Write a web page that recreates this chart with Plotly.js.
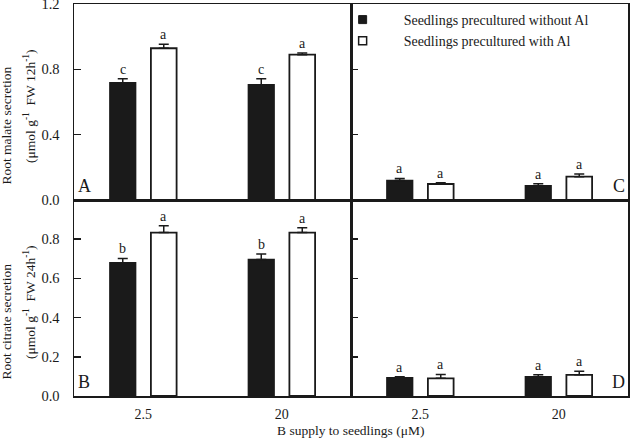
<!DOCTYPE html>
<html><head><meta charset="utf-8">
<script src="https://cdn.plot.ly/plotly-3.0.1.min.js"></script>
<style>html,body{margin:0;padding:0;background:#fff}</style>
</head><body><div id="chart" style="width:630px;height:438px"></div>
<script>
// ---- data ----
const bSupply = ['2.5', '20'];
const seriesNames = ['Seedlings precultured without Al', 'Seedlings precultured with Al'];

// Panel A: root malate secretion (left)
const malateA_without = [0.718, 0.706];
const malateA_with    = [0.929, 0.890];
const malateA_withoutErr = [0.025, 0.037];
const malateA_withErr    = [0.024, 0.010];
const malateA_withoutSig = ['c', 'c'];
const malateA_withSig    = ['a', 'a'];

// Panel C: root malate secretion (right)
const malateC_without = [0.120, 0.088];
const malateC_with    = [0.098, 0.143];
const malateC_withoutErr = [0.012, 0.012];
const malateC_withErr    = [0.008, 0.016];
const malateC_withoutSig = ['a', 'a'];
const malateC_withSig    = ['a', 'a'];

// Panel B: root citrate secretion (left)
const citrateB_without = [0.680, 0.697];
const citrateB_with    = [0.834, 0.834];
const citrateB_withoutErr = [0.022, 0.027];
const citrateB_withErr    = [0.035, 0.025];
const citrateB_withoutSig = ['b', 'b'];
const citrateB_withSig    = ['a', 'a'];

// Panel D: root citrate secretion (right)
const citrateD_without = [0.093, 0.098];
const citrateD_with    = [0.090, 0.108];
const citrateD_withoutErr = [0.005, 0.010];
const citrateD_withErr    = [0.020, 0.018];
const citrateD_withoutSig = ['a', 'a'];
const citrateD_withSig    = ['a', 'a'];

const malateTicks  = [0, 0.4, 0.8, 1.2];
const citrateTicks = [0, 0.2, 0.4, 0.6, 0.8];

const malateTitle  = ['Root malate secretion', '(μmol g<sup>-1</sup>  FW 12h<sup>-1</sup>)'];
const citrateTitle = ['Root citrate secretion', '(μmol g<sup>-1</sup>  FW 24h<sup>-1</sup>)'];
const xTitle = 'B supply to seedlings (μM)';

// ---- styling ----
const FONT = '"Liberation Serif", "Times New Roman", serif';
const INK = '#1a1a1a';
const BARGAP = 0.408, BARGROUPGAP = 0.373;
const slot = (1 - BARGAP) / 2;

const panels = [
  {name:'A', xa:'x',  ya:'y',  w:malateA_without, wi:malateA_with, we:malateA_withoutErr, wie:malateA_withErr, ws:malateA_withoutSig, wis:malateA_withSig},
  {name:'C', xa:'x2', ya:'y2', w:malateC_without, wi:malateC_with, we:malateC_withoutErr, wie:malateC_withErr, ws:malateC_withoutSig, wis:malateC_withSig},
  {name:'B', xa:'x3', ya:'y3', w:citrateB_without, wi:citrateB_with, we:citrateB_withoutErr, wie:citrateB_withErr, ws:citrateB_withoutSig, wis:citrateB_withSig},
  {name:'D', xa:'x4', ya:'y4', w:citrateD_without, wi:citrateD_with, we:citrateD_withoutErr, wie:citrateD_withErr, ws:citrateD_withoutSig, wis:citrateD_withSig},
];

const traces = [];
const annotations = [];
function errY(arr){ return {type:'data', symmetric:false, array:arr, arrayminus:arr.map(()=>0), color:INK, thickness:1.5, width:5}; }

panels.forEach(p => {
  traces.push({type:'bar', x:bSupply, y:p.w, xaxis:p.xa, yaxis:p.ya, name:seriesNames[0], showlegend:false,
    marker:{color:INK, line:{color:INK, width:1.5}}, error_y:errY(p.we)});
  traces.push({type:'bar', x:bSupply, y:p.wi, xaxis:p.xa, yaxis:p.ya, name:seriesNames[1], showlegend:false,
    marker:{color:'#ffffff', line:{color:INK, width:1.8}}, error_y:errY(p.wie)});
  bSupply.forEach((c, i) => {
    annotations.push({xref:p.xa, yref:p.ya, x:i - slot/2, y:p.w[i] + p.we[i], text:p.ws[i], showarrow:false,
      yanchor:'bottom', yshift:0, font:{family:FONT, size:14, color:INK}});
    annotations.push({xref:p.xa, yref:p.ya, x:i + slot/2, y:p.wi[i] + p.wie[i], text:p.wis[i], showarrow:false,
      yanchor:'bottom', yshift:0, font:{family:FONT, size:14, color:INK}});
  });
});

// legend-only entries
traces.push({type:'scatter', mode:'markers', x:[null], y:[null], xaxis:'x2', yaxis:'y2', name:seriesNames[0],
  marker:{symbol:'square', size:8, color:INK, line:{color:INK, width:1}}});
traces.push({type:'scatter', mode:'markers', x:[null], y:[null], xaxis:'x2', yaxis:'y2', name:seriesNames[1],
  marker:{symbol:'square', size:8, color:'#ffffff', line:{color:INK, width:1.5}}});

// panel letters
const letterFont = {family:FONT, size:18, color:INK};
annotations.push({xref:'x domain', yref:'y domain', x:0.008, y:0.01, text:'A', showarrow:false, xanchor:'left', yanchor:'bottom', font:letterFont});
annotations.push({xref:'x2 domain', yref:'y2 domain', x:0.995, y:0.01, text:'C', showarrow:false, xanchor:'right', yanchor:'bottom', font:letterFont});
annotations.push({xref:'x3 domain', yref:'y3 domain', x:0.008, y:0.01, text:'B', showarrow:false, xanchor:'left', yanchor:'bottom', font:letterFont});
annotations.push({xref:'x4 domain', yref:'y4 domain', x:0.995, y:0.01, text:'D', showarrow:false, xanchor:'right', yanchor:'bottom', font:letterFont});

// y-axis titles (two lines each)
const titleFont = {family:FONT, size:13.5, color:INK};
[[malateTitle, 'y domain'], [citrateTitle, 'y3 domain']].forEach(([t, yr]) => {
  annotations.push({xref:'paper', yref:yr, x:0, xshift:-67, y:0.38, text:t[0], textangle:-90, showarrow:false, xanchor:'center', yanchor:'middle', font:titleFont});
  annotations.push({xref:'paper', yref:yr, x:0, xshift:-44, y:0.48, text:t[1], textangle:-90, showarrow:false, xanchor:'center', yanchor:'middle', font:titleFont});
});

// shared x title
annotations.push({xref:'paper', yref:'paper', x:0.5, y:0, yshift:-34, yanchor:'middle', text:xTitle, showarrow:false,
  font:{family:FONT, size:13.5, color:INK}});

const xBase = {type:'category', range:[-0.5, 1.5], showline:true, mirror:true, linecolor:INK, linewidth:1.5,
  ticks:'', showgrid:false, zeroline:false, fixedrange:true, tickfont:{family:FONT, size:14, color:INK}};
const yBase = {showline:true, mirror:true, linecolor:INK, linewidth:1.5, ticks:'inside', ticklen:7, tickwidth:1.5,
  tickcolor:INK, showgrid:false, zeroline:false, tickformat:'.1f', tickfont:{family:FONT, size:14.5, color:INK},
  ticklabelstandoff:10, ticklabeloverflow:'allow'};

const layout = {
  width:630, height:438,
  margin:{l:74, r:2, t:4, b:42},
  paper_bgcolor:'#fff', plot_bgcolor:'#fff',
  font:{family:FONT, color:INK},
  barmode:'group', bargap:BARGAP, bargroupgap:BARGROUPGAP,
  showlegend:true,
  legend:{x:0.447, y:1, xanchor:'left', yanchor:'top', bgcolor:'rgba(0,0,0,0)', itemwidth:72,
    font:{family:FONT, size:14, color:INK}, tracegroupgap:0},
  xaxis: Object.assign({}, xBase, {domain:[0, 0.5], anchor:'y', showticklabels:false}),
  xaxis2:Object.assign({}, xBase, {domain:[0.5, 1], anchor:'y2', showticklabels:false}),
  xaxis3:Object.assign({}, xBase, {domain:[0, 0.5], anchor:'y3', showticklabels:true, ticklabelstandoff:5}),
  xaxis4:Object.assign({}, xBase, {domain:[0.5, 1], anchor:'y4', showticklabels:true, ticklabelstandoff:5}),
  yaxis: Object.assign({}, yBase, {domain:[0.5, 1], anchor:'x', range:[0, 1.2], tickvals:malateTicks}),
  yaxis2:Object.assign({}, yBase, {domain:[0.5, 1], anchor:'x2', range:[0, 1.2], tickvals:malateTicks, showticklabels:false}),
  yaxis3:Object.assign({}, yBase, {domain:[0, 0.5], anchor:'x3', range:[0, 1.0], tickvals:citrateTicks}),
  yaxis4:Object.assign({}, yBase, {domain:[0, 0.5], anchor:'x4', range:[0, 1.0], tickvals:citrateTicks, showticklabels:false}),
  annotations: annotations
};

Plotly.newPlot('chart', traces, layout, {displayModeBar:false, staticPlot:true});
</script></body></html>
